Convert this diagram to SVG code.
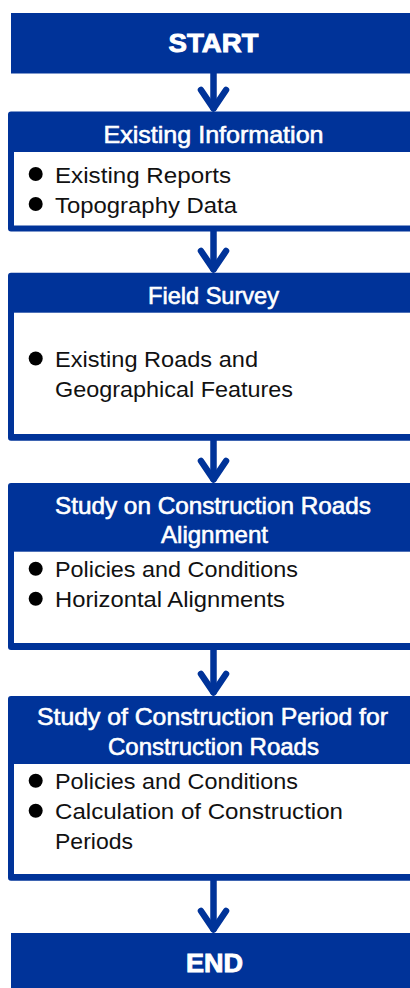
<svg xmlns="http://www.w3.org/2000/svg" width="410" height="988" viewBox="0 0 410 988">
  <style>
    .blue { fill: #003399; }
    .panel { fill: #ffffff; }
    .term { font-family: "Liberation Sans", Arial, sans-serif; font-weight: bold; font-size: 26px; fill: #ffffff; stroke: #ffffff; stroke-width: 0.9; text-anchor: middle; }
    .title { font-family: "Liberation Sans", Arial, sans-serif; font-size: 24px; fill: #ffffff; stroke: #ffffff; stroke-width: 0.6; text-anchor: middle; }
    .item { font-family: "Liberation Sans", Arial, sans-serif; font-size: 22.5px; fill: #111111; }
    .dot { fill: #000000; }
    .flow { stroke: #003399; stroke-width: 6.5; fill: none; stroke-linecap: round; stroke-linejoin: round; }
  </style>
  <rect width="410" height="988" fill="#ffffff"/>

  <!-- connectors -->
  <g id="connectors">
    <g id="c1"><path class="flow" d="M213.5 73 V108"/><path class="flow" d="M201 90 L213.5 108.5 L226 90"/></g>
    <g id="c2"><path class="flow" d="M213.5 231 V269"/><path class="flow" d="M201 251 L213.5 269.5 L226 251"/></g>
    <g id="c3"><path class="flow" d="M213.5 440 V479"/><path class="flow" d="M201 461 L213.5 479.5 L226 461"/></g>
    <g id="c4"><path class="flow" d="M213.5 650 V692"/><path class="flow" d="M201 674 L213.5 692.5 L226 674"/></g>
    <g id="c5"><path class="flow" d="M213.5 880 V929"/><path class="flow" d="M201 911 L213.5 929.5 L226 911"/></g>
  </g>

  <!-- start terminal -->
  <g id="start">
    <rect class="blue" x="11" y="13" width="420" height="60.5"/>
    <text class="term" x="213.5" y="51.7" textLength="90" lengthAdjust="spacingAndGlyphs">START</text>
  </g>

  <!-- step 1 -->
  <g id="existing-information">
    <rect class="blue" x="8" y="111.5" width="420" height="120" rx="3"/>
    <rect class="panel" x="14" y="152" width="420" height="73.5"/>
    <text class="title" x="213.5" y="143.3" textLength="220" lengthAdjust="spacingAndGlyphs">Existing Information</text>
    <circle class="dot" cx="35.7" cy="174" r="7"/>
    <text class="item" x="55" y="182.5" textLength="176" lengthAdjust="spacingAndGlyphs">Existing Reports</text>
    <circle class="dot" cx="35.7" cy="204" r="7"/>
    <text class="item" x="55" y="212.5" textLength="182" lengthAdjust="spacingAndGlyphs">Topography Data</text>
  </g>

  <!-- step 2 -->
  <g id="field-survey">
    <rect class="blue" x="8" y="272.7" width="420" height="168" rx="3"/>
    <rect class="panel" x="14" y="312.7" width="420" height="121.3"/>
    <text class="title" x="213.5" y="304" textLength="131" lengthAdjust="spacingAndGlyphs">Field Survey</text>
    <circle class="dot" cx="35.7" cy="358.5" r="7"/>
    <text class="item" x="55" y="366.9" textLength="203" lengthAdjust="spacingAndGlyphs">Existing Roads and</text>
    <text class="item" x="55" y="396.9" textLength="238" lengthAdjust="spacingAndGlyphs">Geographical Features</text>
  </g>

  <!-- step 3 -->
  <g id="alignment-study">
    <rect class="blue" x="8" y="483" width="420" height="167" rx="3"/>
    <rect class="panel" x="14" y="551.7" width="420" height="91.3"/>
    <text class="title" x="213" y="514" textLength="316" lengthAdjust="spacingAndGlyphs">Study on Construction Roads</text>
    <text class="title" x="214.5" y="543" textLength="107" lengthAdjust="spacingAndGlyphs">Alignment</text>
    <circle class="dot" cx="35.7" cy="568.8" r="7"/>
    <text class="item" x="55" y="577.3" textLength="243" lengthAdjust="spacingAndGlyphs">Policies and Conditions</text>
    <circle class="dot" cx="35.7" cy="598.8" r="7"/>
    <text class="item" x="55" y="607.3" textLength="230" lengthAdjust="spacingAndGlyphs">Horizontal Alignments</text>
  </g>

  <!-- step 4 -->
  <g id="period-study">
    <rect class="blue" x="8" y="696" width="420" height="184.7" rx="3"/>
    <rect class="panel" x="14" y="764" width="420" height="110"/>
    <text class="title" x="212.5" y="725" textLength="351" lengthAdjust="spacingAndGlyphs">Study of Construction Period for</text>
    <text class="title" x="213.5" y="755" textLength="211" lengthAdjust="spacingAndGlyphs">Construction Roads</text>
    <circle class="dot" cx="35.7" cy="780.8" r="7"/>
    <text class="item" x="55" y="789.3" textLength="243" lengthAdjust="spacingAndGlyphs">Policies and Conditions</text>
    <circle class="dot" cx="35.7" cy="810.8" r="7"/>
    <text class="item" x="55" y="819.3" textLength="288" lengthAdjust="spacingAndGlyphs">Calculation of Construction</text>
    <text class="item" x="55" y="849.3" textLength="78" lengthAdjust="spacingAndGlyphs">Periods</text>
  </g>

  <!-- end terminal -->
  <g id="end">
    <rect class="blue" x="11" y="933" width="420" height="60"/>
    <text class="term" x="214.5" y="971.7" textLength="57" lengthAdjust="spacingAndGlyphs">END</text>
  </g>
</svg>
